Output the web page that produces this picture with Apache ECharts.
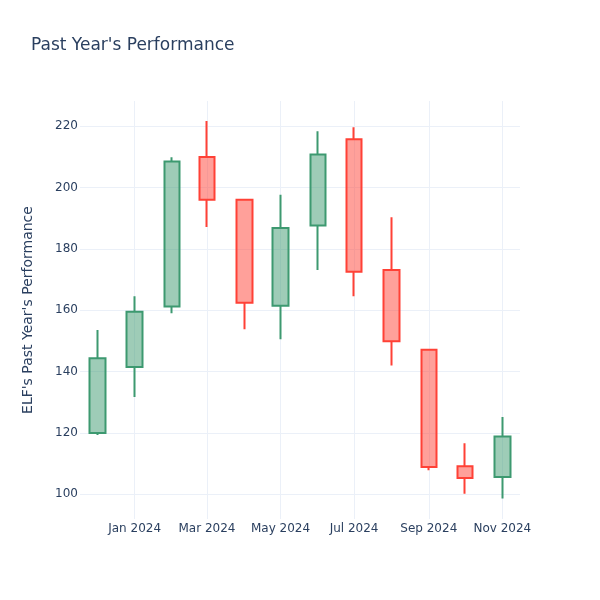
<!DOCTYPE html>
<html>
<head>
<meta charset="utf-8">
<script src="https://cdn.jsdelivr.net/npm/echarts@6/dist/echarts.min.js"></script>
<style>
html,body{margin:0;padding:0;background:#fff;}
#chart{width:600px;height:600px;}
</style>
</head>
<body>
<div id="chart"></div>
<script>
// Data (monthly candles)
const months = ['2023-12-01','2024-01-01','2024-02-01','2024-03-01','2024-04-01','2024-05-01','2024-06-01','2024-07-01','2024-08-01','2024-09-01','2024-10-01','2024-11-01'];
const openVals  = [120.0, 141.5, 161.2, 209.9, 196.0, 161.4, 187.6, 215.7, 173.1, 147.1, 109.1, 105.6];
const closeVals = [144.3, 159.5, 208.4, 196.0, 162.4, 186.8, 210.7, 172.5, 149.9, 108.9, 105.3, 118.8];
const lowVals   = [119.3, 131.7, 159.0, 187.1, 153.8, 150.5, 173.1, 164.5, 142.0, 107.8, 100.2, 98.6];
const highVals  = [153.5, 164.5, 209.8, 221.6, 196.3, 197.6, 218.3, 219.6, 190.3, 147.2, 116.6, 125.2];
const yTicks = [100, 120, 140, 160, 180, 200, 220];
const monthNames = ['Jan','Feb','Mar','Apr','May','Jun','Jul','Aug','Sep','Oct','Nov','Dec'];

function toUTC(s){ const p = s.split('-').map(Number); return Date.UTC(p[0], p[1]-1, p[2]); }

const candleData = months.map((m, i) => [toUTC(m), openVals[i], closeVals[i], lowVals[i], highVals[i]]);

const chart = echarts.init(document.getElementById('chart'), null, {renderer: 'canvas'});
const textColor = '#2a3f5f';
const gridColor = '#EBF0F8';
const font = '"DejaVu Sans", verdana, sans-serif';

chart.setOption({
  animation: false,
  useUTC: true,
  backgroundColor: '#fff',
  title: {
    text: "Past Year's Performance",
    left: 26, top: 32,
    textStyle: {color: textColor, fontSize: 17, fontWeight: 'normal', fontFamily: font}
  },
  grid: {left: 80, right: 80, top: 101, bottom: 81, containLabel: false},
  xAxis: {
    type: 'time',
    min: Date.UTC(2023, 10, 16, 16),
    max: Date.UTC(2024, 10, 15, 16),
    splitNumber: 5,
    axisLine: {show: false},
    axisTick: {show: false},
    axisLabel: {
      margin: 4,
      hideOverlap: false,
      color: textColor, fontSize: 12, fontFamily: font,
      formatter: function (v) { const d = new Date(v); return monthNames[d.getUTCMonth()] + ' ' + d.getUTCFullYear(); }
    },
    splitLine: {show: true, showMinLine: false, showMaxLine: false, lineStyle: {color: gridColor, width: 1}}
  },
  yAxis: {
    type: 'value',
    min: 91.95, max: 228.15,
    name: "ELF's Past Year's Performance",
    nameLocation: 'middle',
    nameGap: 45,
    nameTextStyle: {color: textColor, fontSize: 14, fontFamily: font},
    axisLine: {show: false},
    axisTick: {show: false, customValues: yTicks},
    axisLabel: {customValues: yTicks, margin: 2, color: textColor, fontSize: 12, fontFamily: font},
    splitLine: {show: true, lineStyle: {color: gridColor, width: 1}}
  },
  series: [{
    type: 'candlestick',
    data: candleData,
    barWidth: 16,
    itemStyle: {
      color: 'rgba(61,153,112,0.5)',
      color0: 'rgba(255,65,54,0.5)',
      borderColor: '#3D9970',
      borderColor0: '#FF4136',
      borderWidth: 2
    }
  }]
});
</script>
</body>
</html>
